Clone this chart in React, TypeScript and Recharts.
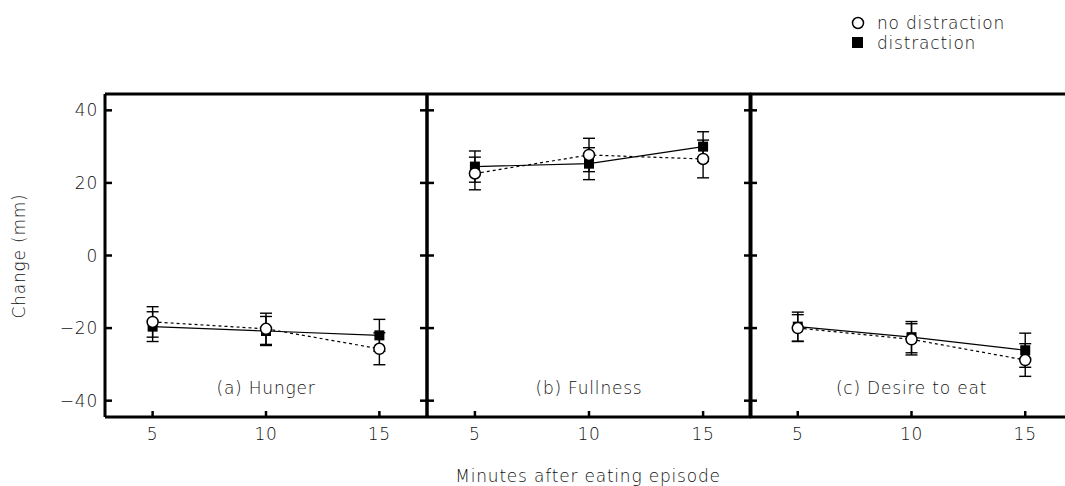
import React from 'react';
import { LineChart, Line, XAxis, YAxis, ErrorBar } from 'recharts';

// minutes after the eating episode
const minutes = [5, 10, 15];

// (a) Hunger
const hungerNoDist = [-18.3, -20.2, -25.7];
const hungerNoDistErr = [4.2, 4.3, 4.4];
const hungerDist = [-19.6, -20.8, -22.0];
const hungerDistErr = [4.1, 4.0, 4.4];

// (b) Fullness
const fullNoDist = [22.6, 27.7, 26.6];
const fullNoDistErr = [4.5, 4.6, 5.2];
const fullDist = [24.5, 25.3, 30.0];
const fullDistErr = [4.3, 4.4, 4.1];

// (c) Desire to eat
const desireNoDist = [-20.0, -23.1, -28.8];
const desireNoDistErr = [3.7, 4.3, 4.5];
const desireDist = [-19.6, -22.5, -26.1];
const desireDistErr = [4.0, 4.3, 4.7];

const yTicks = [-40, -20, 0, 20, 40];
const xTicks = [5, 10, 15];
const panelTitles = ['(a) Hunger', '(b) Fullness', '(c) Desire to eat'];
const legendLabels = ['no distraction', 'distraction'];

const FONT = '"DejaVu Sans", sans-serif';
const TXT = '#111';
const FS = 17;
const LS = 0.8;
const W = 1100;
const H = 486;
const TOP = 94;
const BOTTOM = 417;
const XDOM: [number, number] = [2.9, 17.1];
const YDOM: [number, number] = [-44.5, 44.5];

const txtStyle: React.CSSProperties = {
  fontFamily: FONT,
  fontSize: FS,
  letterSpacing: LS,
  color: TXT,
  fontWeight: 300,
  whiteSpace: 'nowrap',
};

const build = (nd: number[], ndE: number[], d: number[], dE: number[]) =>
  minutes.map((m, i) => ({ min: m, nd: nd[i], ndErr: ndE[i], d: d[i], dErr: dE[i] }));

const panels = [
  { title: panelTitles[0], data: build(hungerNoDist, hungerNoDistErr, hungerDist, hungerDistErr), left: 105, right: 427, first: true },
  { title: panelTitles[1], data: build(fullNoDist, fullNoDistErr, fullDist, fullDistErr), left: 427, right: 751, first: false },
  { title: panelTitles[2], data: build(desireNoDist, desireNoDistErr, desireDist, desireDistErr), left: 750, right: 1073, first: false },
];

const frame = { stroke: '#000', strokeWidth: 3 };

// bottom axis: inward tick + label below
const XTick = (props: any) => {
  const { x, y, payload } = props;
  return (
    <g>
      <line x1={x} x2={x} y1={y - 9} y2={y - 15} stroke="#000" strokeWidth={2.5} />
      <text x={x} y={y} dy="0.85em" textAnchor="middle" fontFamily={FONT} fontSize={FS} fontWeight={300} letterSpacing={LS} fill={TXT}>
        {payload.value}
      </text>
    </g>
  );
};

// left axis of first panel: label outside, tick inward
const YLabelTick = (props: any) => {
  const { x, y, payload } = props;
  return (
    <g>
      <line x1={x + 7} x2={x + 14} y1={y} y2={y} stroke="#000" strokeWidth={2.5} />
      <text x={x} y={y} dy="0.36em" textAnchor="end" fontFamily={FONT} fontSize={FS} fontWeight={300} letterSpacing={LS} fill={TXT}>
        {String(payload.value).replace('-', '\u2212')}
      </text>
    </g>
  );
};

// mirrored left axis: tick inward only
const YInTickL = (props: any) => {
  const { x, y } = props;
  return <line x1={x} x2={x + 7} y1={y} y2={y} stroke="#000" strokeWidth={2.5} />;
};

// mirrored right axis: tick inward only
const YInTickR = (props: any) => {
  const { x, y } = props;
  return <line x1={x} x2={x - 7} y1={y} y2={y} stroke="#000" strokeWidth={2.5} />;
};

const Square = (props: any) => {
  const { cx, cy, index } = props;
  if (cx == null || cy == null) return null;
  return <rect key={`sq-${index}`} x={cx - 5} y={cy - 5} width={10} height={10} fill="#000" />;
};

function Panel({ p }: { p: typeof panels[number] }) {
  const yW = 60;
  const margin = {
    top: TOP,
    bottom: H - BOTTOM - 30,
    left: p.first ? p.left - yW : p.left,
    right: W - p.right,
  };
  return (
    <div style={{ position: 'absolute', left: 0, top: 0 }}>
      <LineChart width={W} height={H} data={p.data} margin={margin}>
        <XAxis
          xAxisId="x"
          dataKey="min"
          type="number"
          domain={XDOM}
          ticks={xTicks}
          allowDataOverflow
          axisLine={frame}
          tickLine={false}
          tickSize={0}
          tickMargin={9}
          height={30}
          tick={<XTick />}
        />
        <XAxis xAxisId="top" dataKey="min" type="number" orientation="top" domain={XDOM} allowDataOverflow mirror axisLine={frame} tickLine={false} tick={false} />
        {p.first ? (
          <YAxis
            yAxisId="y"
            type="number"
            domain={YDOM}
            ticks={yTicks}
            allowDataOverflow
            width={yW}
            axisLine={frame}
            tickLine={false}
            tickSize={0}
            tickMargin={7}
            tick={<YLabelTick />}
          />
        ) : (
          <YAxis
            yAxisId="y"
            type="number"
            domain={YDOM}
            ticks={yTicks}
            allowDataOverflow
            mirror
            axisLine={frame}
            tickLine={false}
            tickSize={0}
            tickMargin={0}
            tick={<YInTickL />}
          />
        )}
        <YAxis
          yAxisId="yr"
          orientation="right"
          type="number"
          domain={YDOM}
          ticks={yTicks}
          allowDataOverflow
          mirror
          axisLine={frame}
          tickLine={false}
          tickSize={0}
          tickMargin={0}
          tick={<YInTickR />}
        />
        <Line
          xAxisId="x"
          yAxisId="y"
          dataKey="d"
          stroke="#000"
          strokeWidth={1.2}
          dot={<Square />}
          isAnimationActive={false}
        >
          <ErrorBar dataKey="dErr" width={6} stroke="#000" strokeWidth={1.4} />
        </Line>
        <Line
          xAxisId="x"
          yAxisId="y"
          dataKey="nd"
          stroke="#000"
          strokeWidth={1.2}
          strokeDasharray="3 3"
          dot={{ r: 5.5, fill: '#fff', stroke: '#000', strokeWidth: 1.5, strokeDasharray: '0' }}
          isAnimationActive={false}
        >
          <ErrorBar dataKey="ndErr" width={6} stroke="#000" strokeWidth={1.4} />
        </Line>
      </LineChart>
      <div
        style={{
          ...txtStyle,
          position: 'absolute',
          left: (p.left + p.right) / 2 - 150,
          width: 300,
          top: 378,
          textAlign: 'center',
        }}
      >
        {p.title}
      </div>
    </div>
  );
}

export default function App() {
  return (
    <div style={{ position: 'relative', width: 1065, height: 486, overflow: 'hidden', background: '#fff' }}>
      <style>{'body{margin:0}'}</style>
      {panels.map((p) => (
        <Panel key={p.title} p={p} />
      ))}
      <div
        style={{
          ...txtStyle,
          position: 'absolute',
          left: 19,
          top: 256,
          transform: 'translate(-50%, -50%) rotate(-90deg)',
        }}
      >
        Change (mm)
      </div>
      <div
        style={{
          ...txtStyle,
          position: 'absolute',
          left: 588,
          top: 476,
          transform: 'translate(-50%, -50%)',
        }}
      >
        Minutes after eating episode
      </div>
      <div style={{ ...txtStyle, position: 'absolute', left: 851, top: 13, lineHeight: '20px' }}>
        <div style={{ display: 'flex', alignItems: 'center' }}>
          <svg width={14} height={14} style={{ marginRight: 12 }}>
            <circle cx={7} cy={7} r={5.5} fill="#fff" stroke="#000" strokeWidth={1.5} />
          </svg>
          {legendLabels[0]}
        </div>
        <div style={{ display: 'flex', alignItems: 'center' }}>
          <svg width={14} height={14} style={{ marginRight: 12 }}>
            <rect x={1} y={1} width={11} height={11} fill="#000" />
          </svg>
          {legendLabels[1]}
        </div>
      </div>
    </div>
  );
}
